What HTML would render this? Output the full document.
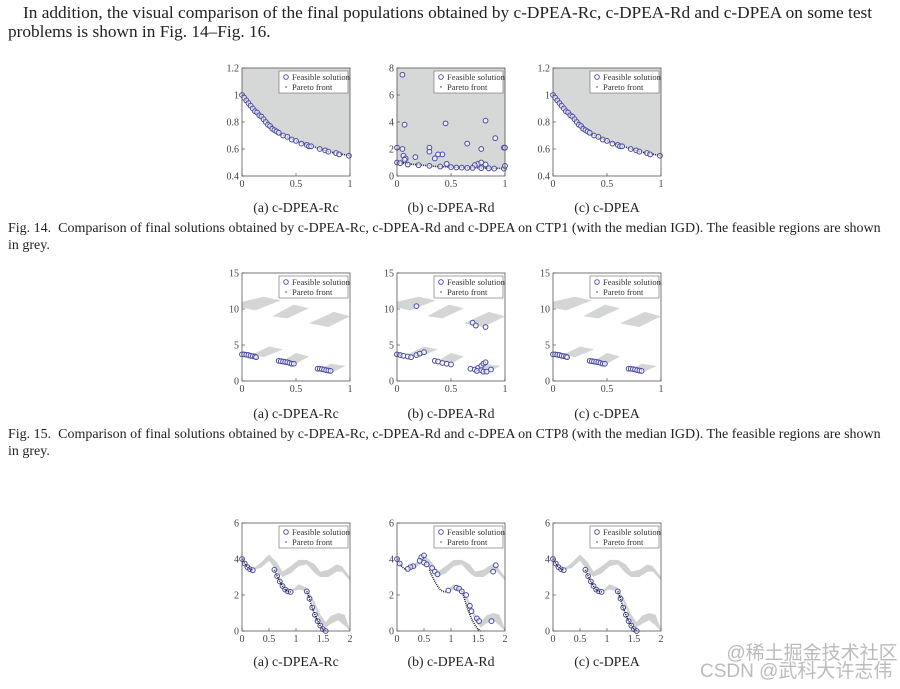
<!DOCTYPE html>
<html><head><meta charset="utf-8">
<style>
body{margin:0;background:#fff;width:900px;height:689px;overflow:hidden;font-family:"Liberation Serif",serif;color:#222}
.t{position:absolute;white-space:nowrap}
svg{position:absolute;left:0;top:0}
</style></head><body>
<div class="t" style="left:23px;top:3px;font-size:17.3px">In addition, the visual comparison of the final populations obtained by c-DPEA-Rc, c-DPEA-Rd and c-DPEA on some test</div>
<div class="t" style="left:8px;top:22px;font-size:17.3px">problems is shown in Fig. 14–Fig. 16.</div>
<div class="t" style="left:8px;top:220px;font-size:14px;line-height:17px">Fig. 14.&nbsp; Comparison of final solutions obtained by c-DPEA-Rc, c-DPEA-Rd and c-DPEA on CTP1 (with the median IGD). The feasible regions are shown<br>in grey.</div>
<div class="t" style="left:8px;top:426px;font-size:14px;line-height:17px">Fig. 15.&nbsp; Comparison of final solutions obtained by c-DPEA-Rc, c-DPEA-Rd and c-DPEA on CTP8 (with the median IGD). The feasible regions are shown<br>in grey.</div>
<div class="t" style="left:700px;top:645px;font-size:19px;color:#bbb;font-family:'Liberation Sans','Noto Sans CJK SC',sans-serif;line-height:18px">&nbsp;&nbsp;&nbsp;&nbsp;&nbsp;@稀土掘金技术社区<br>CSDN @武科大许志伟</div>
<svg id="s" width="900" height="689"></svg>
<script>
// ---- data ----
const subCaptions=["(a)  c-DPEA-Rc","(b)  c-DPEA-Rd","(c)  c-DPEA"];
const ctp1Ticks=[0.4,0.6,0.8,1,1.2];
const ctp1Front=[[0,1],[0.1,0.9],[0.2,0.82],[0.3,0.75],[0.35,0.71],[0.5,0.66],[0.65,0.62],[0.8,0.58],[1,0.55]];
const ctp1SolA=[[0,1],[0.02,0.98],[0.04,0.96],[0.06,0.94],[0.08,0.92],[0.1,0.9],[0.12,0.88],[0.14,0.87],[0.16,0.85],[0.18,0.84],[0.2,0.82],[0.22,0.8],[0.24,0.78],[0.26,0.77],[0.28,0.75],[0.3,0.74],[0.32,0.73],[0.34,0.72],[0.38,0.7],[0.42,0.69],[0.46,0.67],[0.5,0.66],[0.55,0.64],[0.6,0.63],[0.62,0.62],[0.64,0.62],[0.72,0.6],[0.77,0.59],[0.8,0.58],[0.87,0.57],[0.9,0.56],[0.99,0.55]];
const ctp1bTicks=[0,2,4,6,8];
const ctp1SolB=[[0.05,7.5],[0.07,3.8],[0.45,3.9],[0.82,4.1],[0.65,2.4],[0.91,2.8],[0,2.1],[0.05,2],[0.3,2.1],[0.3,1.8],[0.42,1.6],[0.38,1.6],[0.78,2],[0.99,2.1],[1,2.1],[0.17,1.4],[0.35,1.3],[0.06,1.5],[0.08,1.3],[0.07,1.2],[0.46,0.9],[0.75,0.9],[0.78,1],[0.82,0.85],[0.72,0.8],[0,1],[0.03,0.95],[0.1,0.85],[0.2,0.8],[0.3,0.75],[0.4,0.7],[0.5,0.66],[0.55,0.63],[0.6,0.62],[0.65,0.6],[0.7,0.6],[0.78,0.58],[0.85,0.57],[0.9,0.55],[0.99,0.55],[1,0.75]];
const ctp8Ticks=[0,5,10,15];
const ctp8Regions=[[[0,10.2],[0.12,9.8],[0.36,11.2],[0.2,11.7],[0,11]],[[0.28,9],[0.42,8.7],[0.62,10.1],[0.48,10.6]],[[0.62,8.0],[0.8,7.5],[1,9],[0.85,9.6]],[[0.1,3.7],[0.2,3.3],[0.38,4.4],[0.25,4.8]],[[0.38,2.8],[0.5,2.4],[0.62,3.4],[0.5,3.9]],[[0.72,1.6],[0.85,1.3],[0.96,2.1],[0.82,2.4]],[[0,3.9],[0.05,3.9],[0.05,3.4],[0,3.4]]];
const ctp8SolA=[[0,3.7],[0.02,3.7],[0.04,3.65],[0.06,3.6],[0.08,3.5],[0.1,3.45],[0.12,3.4],[0.13,3.3],[0.34,2.8],[0.36,2.75],[0.38,2.7],[0.4,2.65],[0.42,2.6],[0.44,2.5],[0.46,2.4],[0.48,2.4],[0.7,1.7],[0.72,1.7],[0.74,1.65],[0.76,1.6],[0.78,1.5],[0.8,1.45],[0.82,1.4]];
const ctp8SolB=[[0.18,10.4],[0.7,8.1],[0.73,7.7],[0.82,7.5],[0,3.7],[0.03,3.6],[0.06,3.5],[0.1,3.4],[0.13,3.3],[0.18,3.6],[0.21,3.8],[0.25,4],[0.35,2.8],[0.38,2.7],[0.42,2.5],[0.46,2.4],[0.5,2.3],[0.68,1.7],[0.72,1.6],[0.75,1.8],[0.78,2.1],[0.8,2.4],[0.82,2.6],[0.74,1.4],[0.78,1.5],[0.8,1.3],[0.83,1.3],[0.87,1.6]];
const ctp2Ticks=[0,2,4,6];
const ctpTopBand=[[0.2,3.4,3.45],[0.35,3.5,3.8],[0.5,3.9,4.25],[0.65,3.3,3.8],[0.75,3.0,3.3],[0.9,3.2,3.6],[1.05,3.6,3.95],[1.2,3.7,3.95],[1.35,3.2,3.7],[1.45,3.0,3.3],[1.6,3.0,3.4],[1.75,3.3,3.7],[1.85,3.3,3.6],[2,2.8,3.0]];
const ctpLowBand=[[0.9,2.15,2.2],[1.05,2.3,2.6],[1.2,2.2,2.4],[1.35,1.3,1.6],[1.45,0.5,0.9],[1.55,0.2,0.5],[1.65,0.4,0.85],[1.78,0.6,1.0],[1.9,0.3,0.9],[2,0,0.1]];
const ctpFronts=[[[0,4],[0.05,3.75],[0.1,3.55],[0.15,3.43],[0.2,3.38]],[[0.6,3.4],[0.65,3.05],[0.7,2.75],[0.75,2.5],[0.8,2.3],[0.85,2.2],[0.9,2.17]],[[1.2,2.2],[1.25,1.8],[1.3,1.3],[1.35,0.9],[1.4,0.55],[1.45,0.3],[1.5,0.1],[1.55,0]]];
const ctpSolB=[[0.45,4.1],[0.5,4.2],[0.42,3.9],[0.5,3.8],[0.55,3.7],[0.3,3.6],[0.25,3.55],[0.2,3.45],[0.65,3.5],[0.7,3.3],[0.75,3.15],[0.95,2.25],[1.1,2.4],[1.15,2.35],[1.2,2.2],[1.28,2.0],[1.35,1.4],[1.38,1.1],[1.48,0.7],[1.52,0.55],[1.75,0.55],[1.78,3.3],[1.83,3.65]];
const ctp1Sol=[ctp1SolA,ctp1SolB,ctp1SolA];
// ---- drawing ----
const S=document.getElementById('s');
const NS='http://www.w3.org/2000/svg';
function el(t,a,p){const e=document.createElementNS(NS,t);for(const k in a)e.setAttribute(k,a[k]);(p||S).appendChild(e);return e;}
const colX=[242,397,553],W=108,H=108;
function panel(ci,top,xmax,xt,ymin,ymax,yt,name){
  const x0=colX[ci];
  const g=el('g',{});
  
  
  const sx=v=>x0+v/xmax*W, sy=v=>top+H-(v-ymin)/(ymax-ymin)*H;
  return {g,sx,sy,x0,top,xt,yt,xmax,ymin,ymax};
}
function axes(P){
  const {g,sx,sy,x0,top}=P;
  el('rect',{x:x0,y:top,width:W,height:H,fill:'none',stroke:'#555','stroke-width':0.8},g);
  P.xt.forEach(v=>{el('line',{x1:sx(v),x2:sx(v),y1:top+H,y2:top+H-3,stroke:'#555','stroke-width':0.7},g);
    const t=el('text',{x:sx(v),y:top+H+11,'font-size':10,'text-anchor':'middle',fill:'#444'},g);t.textContent=v;});
  P.yt.forEach(v=>{el('line',{x1:x0,x2:x0+3,y1:sy(v),y2:sy(v),stroke:'#555','stroke-width':0.7},g);
    const t=el('text',{x:x0-3,y:sy(v)+3.5,'font-size':10,'text-anchor':'end',fill:'#444'},g);t.textContent=v;});
  const lg=el('g',{},g);
  
  
  el('rect',{x:x0+37,y:top+3,width:69,height:22,fill:'#fff',stroke:'#666','stroke-width':0.6},lg);
  el('circle',{cx:x0+44,cy:top+9,r:2.3,fill:'none',stroke:'#4a4aa8','stroke-width':0.9},lg);
  el('circle',{cx:x0+44,cy:top+19,r:0.7,fill:'#333'},lg);
  let t=el('text',{x:x0+50,y:top+12,'font-size':8.5,fill:'#333'},lg);t.textContent='Feasible solution';
  t=el('text',{x:x0+50,y:top+22,'font-size':8.5,fill:'#333'},lg);t.textContent='Pareto front';
}
function pts(P,arr){return arr.map(p=>P.sx(p[0])+','+P.sy(p[1])).join(' ');}
function sols(P,arr){arr.forEach(p=>{const c=el('circle',{cx:P.sx(p[0]),cy:P.sy(p[1]),r:2.4,fill:'#fff','fill-opacity':0.6,stroke:'#4a4aa8','stroke-width':1},P.g);
  });}
function front(P,arr){el('polyline',{points:pts(P,arr),fill:'none',stroke:'#222','stroke-width':1.6,'stroke-dasharray':'1 1'},P.g);}
function caption(ci,y,i){const t=el('text',{x:colX[ci]+54,y:y,'font-size':13.8,'text-anchor':'middle',fill:'#222'});t.textContent=subCaptions[i];
  }
// Row 1 CTP1
for(let i=0;i<3;i++){
  const b=i===1;
  const P=panel(i,68,1,[0,0.5,1],b?0:0.4,b?8:1.2,b?ctp1bTicks:ctp1Ticks,'ctp1-panel-'+i);
  const region=ctp1Front.concat([[1,P.ymax],[0,P.ymax]]);
  el('polygon',{points:pts(P,region),fill:'#d6d8d8'},P.g);
  front(P,ctp1Front);sols(P,ctp1Sol[i]);axes(P);caption(i,212,i);
}
// Row 2 CTP8
for(let i=0;i<3;i++){
  const P=panel(i,273,1,[0,0.5,1],0,15,ctp8Ticks,'ctp8-panel-'+i);
  ctp8Regions.forEach(r=>el('polygon',{points:pts(P,r),fill:'#d4d6d6'},P.g));
  sols(P,i===1?ctp8SolB:ctp8SolA);axes(P);caption(i,418,i);
}
// Row 3 CTP2-like
for(let i=0;i<3;i++){
  const P=panel(i,523,2,[0,0.5,1,1.5,2],0,6,ctp2Ticks,'ctp-wave-panel-'+i);
  [ctpTopBand,ctpLowBand].forEach(b=>{
    const poly=b.map(p=>[p[0],p[2]]).concat(b.slice().reverse().map(p=>[p[0],p[1]]));
    el('polygon',{points:pts(P,poly),fill:'#d0d2d2'},P.g);});
  ctpFronts.forEach(f=>{if(i!==1)sols(P,f);front(P,f);});
  if(i===1){sols(P,ctpSolB);sols(P,ctpFronts[0].slice(0,2));}
  axes(P);caption(i,666,i);
}
</script>
</body></html>
